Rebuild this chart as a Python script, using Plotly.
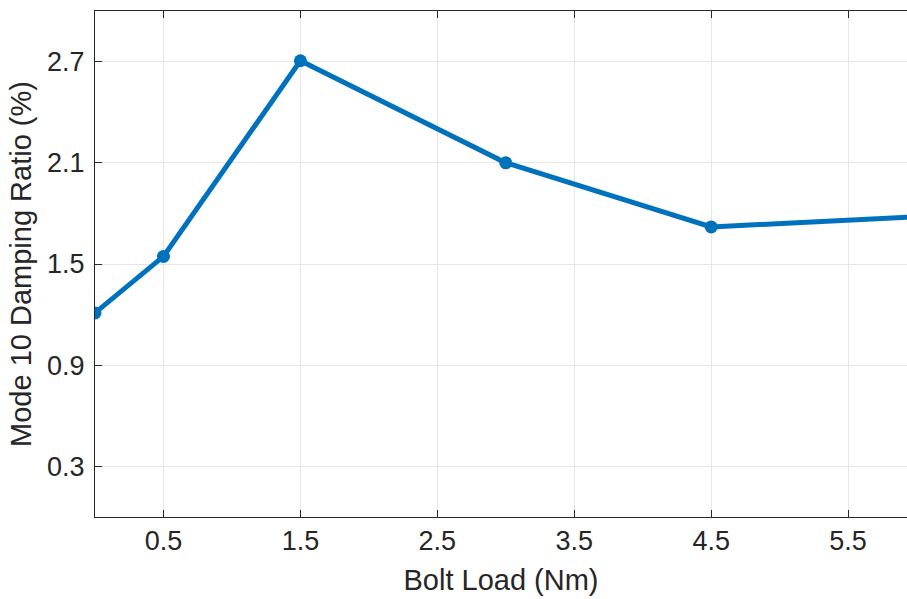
import plotly.graph_objects as go

bolt_load = [0, 0.5, 1.5, 3.0, 4.5, 6.0]
damping_ratio = [1.21, 1.545, 2.705, 2.10, 1.72, 1.78]

x_ticks = [0.5, 1.5, 2.5, 3.5, 4.5, 5.5]
x_tick_labels = ["0.5", "1.5", "2.5", "3.5", "4.5", "5.5"]
y_ticks = [0.3, 0.9, 1.5, 2.1, 2.7]
y_tick_labels = ["0.3", "0.9", "1.5", "2.1", "2.7"]

font_family = "Liberation Sans, Arial, sans-serif"
text_color = "#262626"

fig = go.Figure()
fig.add_trace(go.Scatter(
    x=bolt_load, y=damping_ratio, mode="lines+markers",
    line=dict(color="#0072BD", width=5),
    marker=dict(color="#0072BD", size=13),
    showlegend=False,
))

fig.update_layout(
    width=907, height=599,
    margin=dict(l=95, r=0, t=11, b=82),
    paper_bgcolor="white", plot_bgcolor="white",
    font=dict(family=font_family, color=text_color, size=26),
)
fig.update_xaxes(
    range=[0, 5.93], tickmode="array", tickvals=x_ticks, ticktext=x_tick_labels,
    ticks="inside", ticklen=7, tickwidth=1, tickcolor="#262626",
    showline=True, linecolor="#262626", linewidth=1, mirror="ticks",
    showgrid=True, gridcolor="#e6e6e6", gridwidth=1, zeroline=False,
    tickfont=dict(size=27, color=text_color),
    title=dict(text="Bolt Load (Nm)", font=dict(size=29, color=text_color), standoff=14),
)
fig.update_yaxes(
    range=[0, 3.0], tickmode="array", tickvals=y_ticks, ticktext=y_tick_labels,
    ticks="inside", ticklen=7, tickwidth=1, tickcolor="#262626",
    showline=True, linecolor="#262626", linewidth=1,
    showgrid=True, gridcolor="#e6e6e6", gridwidth=1, zeroline=False,
    tickfont=dict(size=27, color=text_color),
    ticklabelstandoff=4,
    title=dict(text="Mode 10 Damping Ratio (%)", font=dict(size=29, color=text_color), standoff=6),
)

fig.write_html("out.html")
